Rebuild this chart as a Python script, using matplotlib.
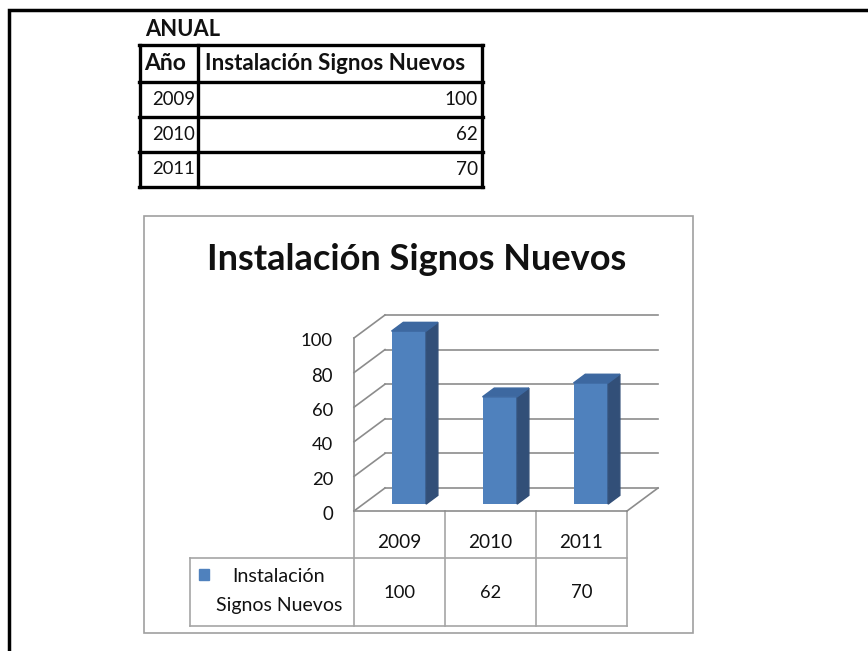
import matplotlib.pyplot as plt
from matplotlib.patches import Rectangle, Polygon

years = ['2009', '2010', '2011']
values = [100, 62, 70]
series = 'Instalación Signos Nuevos'
yticks = [0, 20, 40, 60, 80, 100]
table_title = 'ANUAL'
col_year = 'Año'

W, H = 868, 651
plt.rcParams['font.family'] = ['Lato', 'DejaVu Sans']
fig = plt.figure(figsize=(W / 100, H / 100), dpi=100)
renderer = fig.canvas.get_renderer()

# page axes in pixel coords, y going down
page = fig.add_axes([0, 0, 1, 1])
page.set_xlim(0, W)
page.set_ylim(H, 0)
page.axis('off')


def box(x0, y0, x1, y1):
    return [x0 / W, 1 - y1 / H, (x1 - x0) / W, (y1 - y0) / H]


def fit(t, w):
    # scale font so the text is w pixels wide
    bw = t.get_window_extent(renderer).width
    t.set_fontsize(t.get_fontsize() * w / bw)
    return t


def txt(x, y, s, w, **kw):
    t = page.text(x, y, s, va='center', color='#111111', **kw)
    return fit(t, w)


# page border
page.plot([W + 5, 9, 9], [10, 10, H + 5], color='black', lw=2.5,
          solid_joinstyle='miter')

# --- top table ---
txt(145, 30, table_title, 75, fontweight='bold')
tx = [140, 198, 482]
ty = [45, 82, 117, 152, 187]
for y in ty:
    page.plot([tx[0] - 1, tx[-1] + 1], [y, y], color='black', lw=2.4)
for x in tx:
    page.plot([x, x], [ty[0], ty[-1]], color='black', lw=2.4)
txt(144, 64, col_year, 42, fontweight='bold')
txt(205, 64, series, 260, fontweight='bold')
for i, (yr, v) in enumerate(zip(years, values)):
    yc = (ty[i + 1] + ty[i + 2]) / 2
    txt(195, yc, yr, 43, ha='right')
    txt(478, yc, str(v), 11 * len(str(v)), ha='right')

# --- chart ---
page.add_patch(Rectangle((144, 216), 549, 417, fill=False,
                         edgecolor='#a0a0a0', lw=1.2))
txt(417, 259, series, 420, ha='center', fontweight='bold')

fx0, fx1, fy0, fy1 = 354, 627, 511, 338
ax = fig.add_axes(box(fx0, fy1, fx1, fy0))
ax.set_xlim(-0.5, len(years) - 0.5)
ax.set_ylim(0, 100)
ax.axis('off')
ppx = (fx1 - fx0) / len(years)
ppy = (fy0 - fy1) / 100
DX, DY = 31 / ppx, 23 / ppy
grid = '#8c8c8c'
lk = dict(color=grid, lw=1.2, clip_on=False, zorder=1)
xl, xr = -0.5, len(years) - 0.5
for v in yticks:
    ax.plot([xl + DX, xr + DX], [v + DY, v + DY], **lk)
    ax.plot([xl, xl + DX], [v, v + DY], **lk)
ax.plot([xl, xl], [0, 100], **lk)
ax.plot([xl, xr], [0, 0], **lk)
ax.plot([xr, xr + DX], [0, DY], **lk)

f0, f1 = 0.3, 0.68
bw = 0.38
xs = [i + f0 * DX for i in range(len(years))]
bars = ax.bar(xs, values, width=bw, bottom=f0 * DY, color='#4f81bd',
              zorder=3, clip_on=False)
ddx, ddy = (f1 - f0) * DX, (f1 - f0) * DY
for b in bars:
    x0, x1 = b.get_x(), b.get_x() + b.get_width()
    yb, yt = b.get_y(), b.get_y() + b.get_height()
    ax.add_patch(Polygon([(x1, yb), (x1 + ddx, yb + ddy), (x1 + ddx, yt + ddy), (x1, yt)],
                         color='#324f78', zorder=3, clip_on=False))
    ax.add_patch(Polygon([(x0, yt), (x1, yt), (x1 + ddx, yt + ddy), (x0 + ddx, yt + ddy)],
                         color='#3d68a0', zorder=3, clip_on=False))

for v in yticks:
    t = ax.text(xl - 21 / ppx, v - 2, str(v), ha='right', va='center',
                color='#111111', clip_on=False)
    fit(t, 10.7 * len(str(v)))

# --- data table under the chart ---
tc = '#a5a5a5'
cx = [fx0 + i * ppx for i in range(len(years) + 1)]
r1, r2, r3 = fy0, 558, 626
for x in cx:
    page.plot([x, x], [r1, r3], color=tc, lw=1.2)
page.plot([190, cx[-1]], [r2, r2], color=tc, lw=1.2)
page.plot([190, cx[-1]], [r3, r3], color=tc, lw=1.2)
page.plot([190, 190], [r2, r3], color=tc, lw=1.2)
for i, (yr, v) in enumerate(zip(years, values)):
    xc = (cx[i] + cx[i + 1]) / 2
    txt(xc, 543, yr, 44, ha='center')
    txt(xc, 593, str(v), 10.7 * len(str(v)), ha='center')
page.add_patch(Rectangle((199, 569), 10, 11, color='#4f81bd'))
l1, l2 = series.split(' ', 1)
txt(279, 576, l1, 93, ha='center')
txt(279, 605, l2, 126, ha='center')

fig.savefig('out.png', dpi=100)
